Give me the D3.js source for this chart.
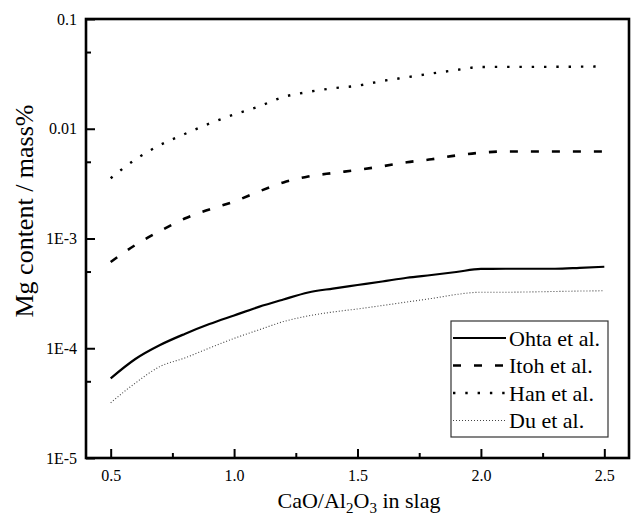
<!DOCTYPE html>
<html>
<head>
<meta charset="utf-8">
<script src="https://cdn.jsdelivr.net/npm/d3@7"></script>
<style>
  html, body { margin: 0; padding: 0; background: #fff; }
  svg { display: block; font-family: "Liberation Serif", "Times New Roman", serif; }
</style>
</head>
<body>
<svg id="chart" width="631" height="519"></svg>
<script>
// CaO/Al2O3 ratio of the slag
const ratio = [0.5, 0.6, 0.7, 0.8, 0.9, 1.0, 1.1, 1.2, 1.3, 1.4, 1.5,
               1.6, 1.7, 1.8, 1.9, 2.0, 2.1, 2.2, 2.3, 2.4, 2.5];

// Mg content (mass%) predicted by each model
const ohta = [5.32e-5, 7.98e-5, 1.07e-4, 1.35e-4, 1.66e-4, 1.99e-4, 2.38e-4, 2.78e-4, 3.22e-4, 3.50e-4, 3.77e-4,
              4.06e-4, 4.39e-4, 4.65e-4, 4.95e-4, 5.29e-4, 5.30e-4, 5.30e-4, 5.30e-4, 5.40e-4, 5.53e-4];
const itoh = [6.11e-4, 8.73e-4, 1.17e-3, 1.52e-3, 1.84e-3, 2.17e-3, 2.68e-3, 3.24e-3, 3.67e-3, 3.95e-3, 4.21e-3,
              4.55e-3, 4.95e-3, 5.27e-3, 5.71e-3, 6.05e-3, 6.21e-3, 6.21e-3, 6.21e-3, 6.21e-3, 6.21e-3];
const han  = [3.54e-3, 5.25e-3, 7.11e-3, 8.96e-3, 1.116e-2, 1.349e-2, 1.595e-2, 1.947e-2, 2.163e-2, 2.338e-2, 2.467e-2,
              2.722e-2, 2.943e-2, 3.187e-2, 3.427e-2, 3.655e-2, 3.66e-2, 3.66e-2, 3.67e-2, 3.68e-2, 3.69e-2];
const du   = [3.19e-5, 4.82e-5, 6.82e-5, 8.15e-5, 1.005e-4, 1.23e-4, 1.47e-4, 1.75e-4, 1.97e-4, 2.14e-4, 2.28e-4,
              2.45e-4, 2.64e-4, 2.84e-4, 3.09e-4, 3.24e-4, 3.24e-4, 3.26e-4, 3.29e-4, 3.32e-4, 3.34e-4];

const seriesNames = ["Ohta et al.", "Itoh et al.", "Han et al.", "Du et al."];

// Axis ticks
const xMajor = [0.5, 1.0, 1.5, 2.0, 2.5];
const xMinor = [0.75, 1.25, 1.75, 2.25];
const yMajor = [1e-5, 1e-4, 1e-3, 1e-2, 1e-1];
const yMajorLabels = ["1E-5", "1E-4", "1E-3", "0.01", "0.1"];
const yMinor = [5e-5, 5e-4, 5e-3, 5e-2];

const series = [
  { name: seriesNames[0], values: ohta, dash: null,      width: 2.2, color: "#000" },
  { name: seriesNames[1], values: itoh, dash: "8,13",    width: 2.6, color: "#000" },
  { name: seriesNames[2], values: han,  dash: "2.4,9.9", width: 2.4, color: "#000" },
  { name: seriesNames[3], values: du,   dash: "1,2",     width: 1.1, color: "#444" }
];

const svg = d3.select("#chart");
const plot = { left: 86, right: 629, top: 19, bottom: 458 };

const x = d3.scaleLinear().domain([0.4, 2.6]).range([plot.left, plot.right]);
const y = d3.scaleLog().domain([1e-5, 0.1]).range([plot.bottom, plot.top]);

// Series curves
const line = d3.line()
  .x((d, i) => x(ratio[i]))
  .y(d => y(d))
  .curve(d3.curveMonotoneX);

svg.append("g").selectAll("path")
  .data(series)
  .join("path")
  .attr("d", s => line(s.values))
  .attr("fill", "none")
  .attr("stroke", s => s.color)
  .attr("stroke-width", s => s.width)
  .attr("stroke-dasharray", s => s.dash);

// Axes with inward ticks
const tickStyle = g => {
  g.select(".domain").remove();
  g.selectAll(".tick line").attr("stroke", "#000").attr("stroke-width", 2);
  g.selectAll(".tick text").attr("fill", "#000").style("font-size", "16px")
    .style("font-family", "'Liberation Serif', 'Times New Roman', serif");
};

svg.append("g")
  .attr("transform", `translate(0,${plot.bottom})`)
  .call(d3.axisBottom(x).tickValues(xMajor).tickFormat(d3.format(".1f"))
    .tickSize(-9).tickPadding(12))
  .call(tickStyle);

svg.append("g")
  .attr("transform", `translate(0,${plot.bottom})`)
  .call(d3.axisBottom(x).tickValues(xMinor).tickFormat("").tickSize(-5))
  .call(tickStyle);

svg.append("g")
  .attr("transform", `translate(${plot.left},0)`)
  .call(d3.axisLeft(y).tickValues(yMajor).tickFormat((d, i) => yMajorLabels[i])
    .tickSize(-9).tickPadding(9))
  .call(tickStyle);

svg.append("g")
  .attr("transform", `translate(${plot.left},0)`)
  .call(d3.axisLeft(y).tickValues(yMinor).tickFormat("").tickSize(-5))
  .call(tickStyle);

// Frame
svg.append("rect")
  .attr("x", plot.left).attr("y", plot.top)
  .attr("width", plot.right - plot.left).attr("height", plot.bottom - plot.top)
  .attr("fill", "none").attr("stroke", "#000").attr("stroke-width", 2.6);

// Axis titles
const xTitle = svg.append("text")
  .attr("x", 359).attr("y", 508)
  .attr("text-anchor", "middle")
  .style("font-size", "22px").attr("fill", "#000");
xTitle.append("tspan").text("CaO/Al");
xTitle.append("tspan").attr("baseline-shift", "-30%").style("font-size", "15px").text("2");
xTitle.append("tspan").text("O");
xTitle.append("tspan").attr("baseline-shift", "-30%").style("font-size", "15px").text("3");
xTitle.append("tspan").text(" in slag");

svg.append("text")
  .attr("transform", "translate(33,211) rotate(-90)")
  .attr("text-anchor", "middle")
  .style("font-size", "26px").attr("fill", "#000")
  .text("Mg content / mass%");

// Legend
const lg = svg.append("g");
lg.append("rect")
  .attr("x", 451).attr("y", 321).attr("width", 157).attr("height", 116)
  .attr("fill", "#fff").attr("stroke", "#333").attr("stroke-width", 1.2);

const rows = lg.selectAll("g.row")
  .data(series)
  .join("g")
  .attr("class", "row")
  .attr("transform", (d, i) => `translate(0,${338 + i * 27.5})`);

rows.append("line")
  .attr("x1", 453).attr("x2", 506).attr("y1", 0).attr("y2", 0)
  .attr("stroke", d => d.color)
  .attr("stroke-width", d => d.width)
  .attr("stroke-dasharray", d => d.dash);

rows.append("text")
  .attr("x", 509).attr("y", 7.5)
  .style("font-size", "22px").attr("fill", "#000")
  .text(d => d.name);
</script>
</body>
</html>
